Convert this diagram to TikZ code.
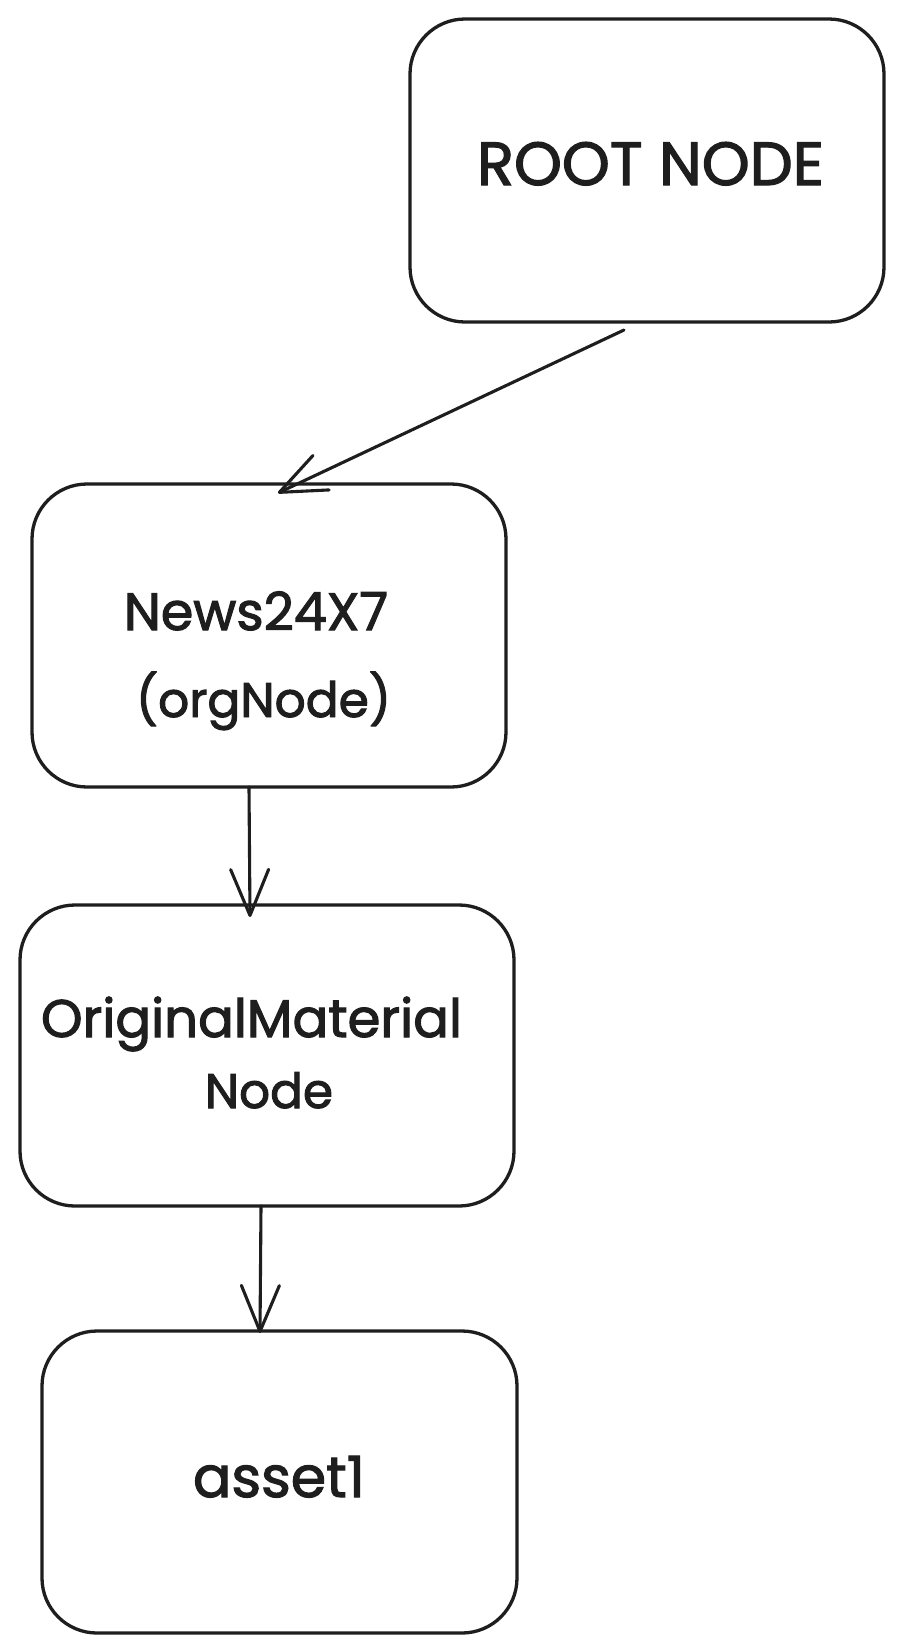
\documentclass[tikz,border=0pt]{standalone}
\usepackage{fontspec}
\setmainfont{Poppins}[BoldFont=Poppins, BoldFeatures={FakeBold=2}]
\usepackage{graphicx}
\usetikzlibrary{arrows.meta}
\definecolor{ink}{HTML}{1E1E1E}
\begin{document}
\begin{tikzpicture}[x=1pt,y=-1pt,
  box/.style={draw=ink, line width=3.3pt, rounded corners=55pt, inner sep=0pt, outer sep=0pt},
  lbl/.style={text=ink, font=\bfseries, anchor=base, inner sep=0pt, outer sep=0pt},
  conn/.style={draw=ink, line width=3.1pt, line cap=round, line join=round, -{Straight Barb[length=46pt,width=38pt,round]}}]
\useasboundingbox (0,0) rectangle (904,1652);
\fill[white] (0,0) rectangle (904,1652);
% boxes
\node[box, minimum width=474pt, minimum height=303pt] (root) at (647,170.5) {};
\node[box, minimum width=474pt, minimum height=303pt] (news) at (269,635.5) {};
\node[box, minimum width=494pt, minimum height=301pt] (orig) at (267,1055.5) {};
\node[box, minimum width=475pt, minimum height=302pt] (asset) at (279.5,1482) {};
% labels
\node[lbl] (rootT) at (650.5,185) {\resizebox{347pt}{!}{ROOT NODE}};
\node[lbl] (newsT1) at (256,630) {\resizebox{264pt}{!}{News24X7}};
\node[lbl] (newsT2) at (263.5,717) {\resizebox{255pt}{!}{(orgNode)}};
\node[lbl] (origT1) at (251.5,1037) {\resizebox{421pt}{!}{OriginalMaterial}};
\node[lbl] (origT2) at (269,1108) {\resizebox{128pt}{!}{Node}};
\node[lbl] (assetT) at (279,1497) {\resizebox{172pt}{!}{asset1}};
% connectors
\draw[conn] ([xshift=-23pt,yshift=-8pt]root.south) -- ([xshift=9pt,yshift=-9pt]news.north);
\draw[conn] ([xshift=-20pt]news.south) -- ([xshift=-17pt,yshift=-12pt]orig.north);
\draw[conn] ([xshift=-6pt]orig.south) -- ([xshift=-19.5pt,yshift=-2pt]asset.north);
\end{tikzpicture}
\end{document}
